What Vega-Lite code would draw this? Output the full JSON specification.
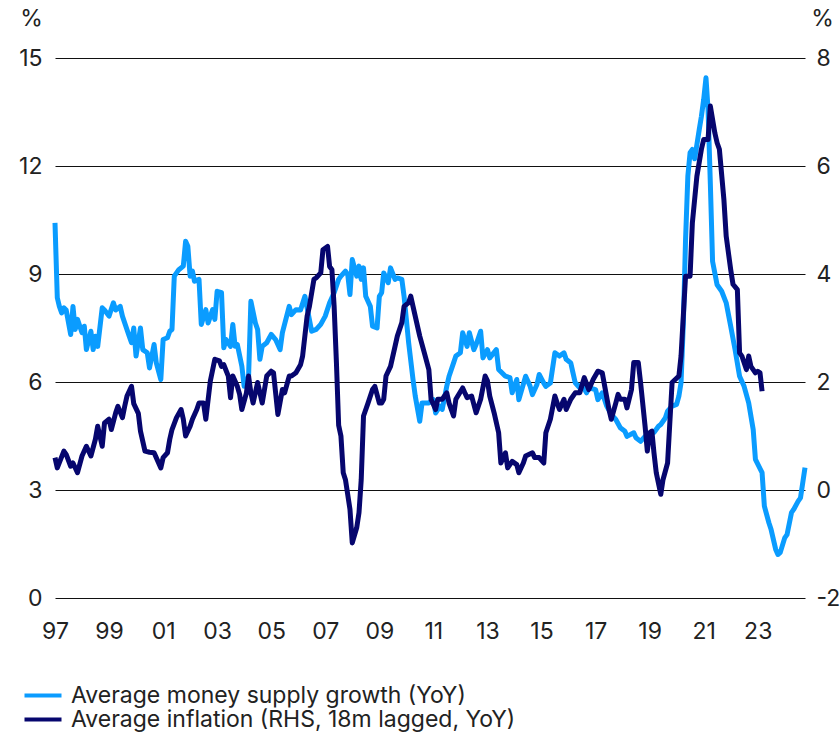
{
 "$schema": "https://vega.github.io/schema/vega-lite/v6.json",
 "width": 750,
 "height": 540,
 "autosize": {"type": "none"},
 "padding": {"left": 55, "top": 58, "right": 35, "bottom": 138},
 "background": "white",
 "datasets": {
  "money": [
   {"d":"1997-01","v":10.42},{"d":"1997-02","v":8.34},{"d":"1997-03","v":8.1},{"d":"1997-04","v":7.92},{"d":"1997-05","v":8.06},{"d":"1997-06","v":8.0},{"d":"1997-08","v":7.32},{"d":"1997-09","v":8.1},{"d":"1997-10","v":7.46},{"d":"1997-11","v":7.74},
   {"d":"1998-01","v":7.37},{"d":"1998-02","v":7.55},{"d":"1998-03","v":6.9},{"d":"1998-05","v":7.41},{"d":"1998-06","v":6.9},{"d":"1998-07","v":7.27},{"d":"1998-08","v":6.99},{"d":"1998-10","v":8.06},{"d":"1998-11","v":8.0},
   {"d":"1999-01","v":7.83},{"d":"1999-03","v":8.2},{"d":"1999-04","v":8.0},{"d":"1999-06","v":8.1},{"d":"1999-07","v":7.83},{"d":"1999-10","v":7.27},{"d":"1999-11","v":7.09},{"d":"1999-12","v":7.5},
   {"d":"2000-01","v":6.72},{"d":"2000-03","v":7.5},{"d":"2000-04","v":6.9},{"d":"2000-06","v":6.81},{"d":"2000-07","v":6.39},{"d":"2000-09","v":7.04},{"d":"2000-10","v":6.53},{"d":"2000-12","v":6.07},
   {"d":"2001-01","v":7.18},{"d":"2001-03","v":7.23},{"d":"2001-04","v":7.41},{"d":"2001-05","v":7.46},{"d":"2001-06","v":8.94},{"d":"2001-08","v":9.12},{"d":"2001-10","v":9.22},{"d":"2001-11","v":9.91},{"d":"2001-12","v":9.77},
   {"d":"2002-01","v":8.94},{"d":"2002-02","v":9.08},{"d":"2002-03","v":8.8},{"d":"2002-05","v":8.85},{"d":"2002-06","v":7.6},{"d":"2002-08","v":8.01},{"d":"2002-09","v":7.64},{"d":"2002-11","v":8.01},{"d":"2002-12","v":7.74},
   {"d":"2003-01","v":8.52},{"d":"2003-03","v":8.48},{"d":"2003-04","v":6.95},{"d":"2003-05","v":7.18},{"d":"2003-07","v":6.99},{"d":"2003-08","v":7.6},{"d":"2003-09","v":6.99},{"d":"2003-10","v":7.04},{"d":"2003-12","v":6.44},
   {"d":"2004-01","v":5.88},{"d":"2004-03","v":6.16},{"d":"2004-04","v":8.24},{"d":"2004-06","v":7.64},{"d":"2004-07","v":7.46},{"d":"2004-08","v":6.63},{"d":"2004-09","v":6.99},{"d":"2004-11","v":7.09},
   {"d":"2005-01","v":7.32},{"d":"2005-03","v":7.18},{"d":"2005-05","v":6.9},{"d":"2005-06","v":7.37},{"d":"2005-09","v":8.1},{"d":"2005-10","v":7.87},{"d":"2005-12","v":8.01},
   {"d":"2006-02","v":8.0},{"d":"2006-04","v":8.38},{"d":"2006-05","v":8.06},{"d":"2006-07","v":7.41},{"d":"2006-09","v":7.46},{"d":"2006-11","v":7.6},
   {"d":"2007-01","v":7.83},{"d":"2007-03","v":8.2},{"d":"2007-05","v":8.48},{"d":"2007-07","v":8.85},{"d":"2007-08","v":8.94},{"d":"2007-10","v":9.08},{"d":"2007-11","v":8.99},{"d":"2007-12","v":8.43},
   {"d":"2008-01","v":9.4},{"d":"2008-03","v":8.94},{"d":"2008-04","v":9.22},{"d":"2008-05","v":8.85},{"d":"2008-06","v":9.17},{"d":"2008-07","v":8.38},{"d":"2008-09","v":8.1},{"d":"2008-10","v":7.55},{"d":"2008-12","v":7.5},
   {"d":"2009-01","v":8.38},{"d":"2009-02","v":8.48},{"d":"2009-03","v":9.03},{"d":"2009-05","v":8.76},{"d":"2009-06","v":9.17},{"d":"2009-08","v":8.85},{"d":"2009-09","v":8.89},{"d":"2009-11","v":8.85},{"d":"2009-12","v":8.38},
   {"d":"2010-02","v":7.09},{"d":"2010-04","v":6.07},{"d":"2010-05","v":5.61},{"d":"2010-07","v":4.91},{"d":"2010-08","v":5.42},{"d":"2010-11","v":5.42},
   {"d":"2011-01","v":5.51},{"d":"2011-02","v":5.14},{"d":"2011-04","v":5.33},{"d":"2011-05","v":5.24},{"d":"2011-07","v":5.88},{"d":"2011-08","v":6.16},{"d":"2011-10","v":6.53},{"d":"2011-11","v":6.72},
   {"d":"2012-01","v":6.81},{"d":"2012-02","v":7.37},{"d":"2012-04","v":6.99},{"d":"2012-05","v":7.37},{"d":"2012-07","v":6.9},{"d":"2012-08","v":7.04},{"d":"2012-10","v":7.41},{"d":"2012-11","v":6.67},
   {"d":"2013-01","v":6.9},{"d":"2013-02","v":6.67},{"d":"2013-05","v":6.9},{"d":"2013-06","v":6.35},{"d":"2013-09","v":6.16},{"d":"2013-11","v":6.12},{"d":"2013-12","v":5.7},
   {"d":"2014-02","v":6.07},{"d":"2014-03","v":5.51},{"d":"2014-06","v":6.16},{"d":"2014-08","v":5.88},{"d":"2014-09","v":5.65},{"d":"2014-11","v":5.93},{"d":"2014-12","v":6.21},
   {"d":"2015-02","v":5.97},{"d":"2015-03","v":5.88},{"d":"2015-05","v":5.97},{"d":"2015-07","v":6.81},{"d":"2015-09","v":6.72},{"d":"2015-11","v":6.81},{"d":"2015-12","v":6.63},
   {"d":"2016-02","v":6.53},{"d":"2016-03","v":6.26},{"d":"2016-04","v":5.98},{"d":"2016-06","v":5.84},{"d":"2016-07","v":5.93},{"d":"2016-09","v":5.7},{"d":"2016-10","v":5.84},
   {"d":"2017-01","v":5.79},{"d":"2017-02","v":5.51},{"d":"2017-04","v":5.7},{"d":"2017-06","v":5.33},{"d":"2017-08","v":5.1},{"d":"2017-10","v":4.96},{"d":"2017-12","v":4.73},
   {"d":"2018-02","v":4.63},{"d":"2018-03","v":4.49},{"d":"2018-06","v":4.59},{"d":"2018-07","v":4.45},{"d":"2018-09","v":4.35},{"d":"2018-11","v":4.49},{"d":"2018-12","v":4.54},
   {"d":"2019-03","v":4.6},{"d":"2019-05","v":4.77},{"d":"2019-06","v":4.82},{"d":"2019-08","v":5.0},{"d":"2019-09","v":5.19},{"d":"2019-11","v":5.33},
   {"d":"2020-01","v":5.38},{"d":"2020-02","v":5.61},{"d":"2020-03","v":5.98},{"d":"2020-04","v":7.64},{"d":"2020-05","v":9.96},{"d":"2020-06","v":11.72},{"d":"2020-07","v":12.37},{"d":"2020-08","v":12.46},{"d":"2020-09","v":12.2},{"d":"2020-11","v":13.0},{"d":"2020-12","v":13.38},
   {"d":"2021-01","v":13.85},{"d":"2021-02","v":14.45},{"d":"2021-03","v":13.57},{"d":"2021-04","v":11.5},{"d":"2021-05","v":9.35},{"d":"2021-07","v":8.7},{"d":"2021-09","v":8.52},{"d":"2021-11","v":8.2},
   {"d":"2022-01","v":7.55},{"d":"2022-03","v":6.9},{"d":"2022-05","v":6.16},{"d":"2022-07","v":5.88},{"d":"2022-09","v":5.42},{"d":"2022-11","v":4.68},{"d":"2022-12","v":3.85},
   {"d":"2023-03","v":3.48},{"d":"2023-04","v":2.55},{"d":"2023-06","v":2.09},{"d":"2023-07","v":1.9},{"d":"2023-09","v":1.35},{"d":"2023-10","v":1.21},{"d":"2023-11","v":1.26},
   {"d":"2024-01","v":1.67},{"d":"2024-02","v":1.76},{"d":"2024-04","v":2.37},{"d":"2024-05","v":2.46},{"d":"2024-07","v":2.69},{"d":"2024-08","v":2.78},{"d":"2024-10","v":3.62}
  ],
  "infl": [
   {"d":"1997-01","v":0.6},{"d":"1997-02","v":0.41},{"d":"1997-05","v":0.72},{"d":"1997-06","v":0.66},{"d":"1997-08","v":0.44},{"d":"1997-09","v":0.5},{"d":"1997-11","v":0.32},
   {"d":"1998-01","v":0.63},{"d":"1998-03","v":0.81},{"d":"1998-05","v":0.63},{"d":"1998-07","v":0.94},{"d":"1998-08","v":1.18},{"d":"1998-10","v":0.81},{"d":"1998-11","v":1.24},
   {"d":"1999-01","v":1.31},{"d":"1999-02","v":1.12},{"d":"1999-04","v":1.43},{"d":"1999-05","v":1.55},{"d":"1999-07","v":1.34},{"d":"1999-08","v":1.55},{"d":"1999-09","v":1.74},{"d":"1999-11","v":1.92},{"d":"1999-12","v":1.6},
   {"d":"2000-02","v":1.42},{"d":"2000-03","v":1.09},{"d":"2000-05","v":0.72},{"d":"2000-07","v":0.7},{"d":"2000-09","v":0.69},{"d":"2000-12","v":0.41},
   {"d":"2001-01","v":0.6},{"d":"2001-03","v":0.69},{"d":"2001-04","v":0.94},{"d":"2001-05","v":1.12},{"d":"2001-07","v":1.34},{"d":"2001-09","v":1.49},{"d":"2001-10","v":1.31},{"d":"2001-11","v":1.0},
   {"d":"2002-01","v":1.18},{"d":"2002-02","v":1.31},{"d":"2002-04","v":1.49},{"d":"2002-05","v":1.61},{"d":"2002-07","v":1.61},{"d":"2002-08","v":1.31},{"d":"2002-10","v":2.02},{"d":"2002-12","v":2.42},
   {"d":"2003-02","v":2.39},{"d":"2003-03","v":2.29},{"d":"2003-04","v":2.32},{"d":"2003-06","v":2.11},{"d":"2003-07","v":1.71},{"d":"2003-08","v":2.11},{"d":"2003-10","v":1.92},{"d":"2003-11","v":1.77},{"d":"2003-12","v":1.49},
   {"d":"2004-02","v":1.8},{"d":"2004-03","v":2.11},{"d":"2004-04","v":1.8},{"d":"2004-05","v":1.61},{"d":"2004-07","v":1.99},{"d":"2004-09","v":1.61},{"d":"2004-11","v":2.11},
   {"d":"2005-01","v":2.2},{"d":"2005-02","v":2.17},{"d":"2005-04","v":1.4},{"d":"2005-06","v":1.86},{"d":"2005-07","v":1.8},{"d":"2005-09","v":2.11},{"d":"2005-10","v":2.11},{"d":"2005-12","v":2.17},
   {"d":"2006-02","v":2.32},{"d":"2006-03","v":2.48},{"d":"2006-05","v":3.22},{"d":"2006-06","v":3.4},{"d":"2006-08","v":3.9},{"d":"2006-09","v":3.93},{"d":"2006-11","v":4.02},{"d":"2006-12","v":4.45},
   {"d":"2007-02","v":4.51},{"d":"2007-03","v":4.14},{"d":"2007-04","v":4.08},{"d":"2007-05","v":3.4},{"d":"2007-06","v":2.36},{"d":"2007-07","v":1.2},{"d":"2007-08","v":1.0},{"d":"2007-09","v":0.32},{"d":"2007-10","v":0.19},{"d":"2007-12","v":-0.36},
   {"d":"2008-01","v":-0.98},{"d":"2008-03","v":-0.7},{"d":"2008-04","v":-0.42},{"d":"2008-05","v":0.19},{"d":"2008-06","v":1.37},{"d":"2008-08","v":1.61},{"d":"2008-10","v":1.86},{"d":"2008-11","v":1.92},
   {"d":"2009-01","v":1.61},{"d":"2009-02","v":1.61},{"d":"2009-03","v":1.68},{"d":"2009-04","v":2.11},{"d":"2009-06","v":2.29},{"d":"2009-08","v":2.66},{"d":"2009-09","v":2.85},{"d":"2009-11","v":3.1},{"d":"2009-12","v":3.4},
   {"d":"2010-02","v":3.47},{"d":"2010-03","v":3.59},{"d":"2010-04","v":3.4},{"d":"2010-06","v":3.03},{"d":"2010-07","v":2.85},{"d":"2010-09","v":2.54},{"d":"2010-11","v":2.23},{"d":"2010-12","v":1.68},
   {"d":"2011-02","v":1.49},{"d":"2011-03","v":1.68},{"d":"2011-05","v":1.68},{"d":"2011-07","v":1.8},{"d":"2011-08","v":1.61},{"d":"2011-10","v":1.37},{"d":"2011-11","v":1.68},
   {"d":"2012-02","v":1.89},{"d":"2012-03","v":1.8},{"d":"2012-04","v":1.71},{"d":"2012-06","v":1.74},{"d":"2012-08","v":1.43},{"d":"2012-10","v":1.68},{"d":"2012-12","v":2.11},
   {"d":"2013-01","v":2.02},{"d":"2013-02","v":1.74},{"d":"2013-04","v":1.43},{"d":"2013-06","v":1.06},{"d":"2013-07","v":0.5},{"d":"2013-09","v":0.69},{"d":"2013-10","v":0.41},{"d":"2013-12","v":0.53},
   {"d":"2014-02","v":0.47},{"d":"2014-03","v":0.32},{"d":"2014-05","v":0.5},{"d":"2014-06","v":0.63},{"d":"2014-09","v":0.69},{"d":"2014-10","v":0.6},{"d":"2014-12","v":0.6},
   {"d":"2015-02","v":0.5},{"d":"2015-03","v":1.06},{"d":"2015-05","v":1.31},{"d":"2015-07","v":1.74},{"d":"2015-08","v":1.61},{"d":"2015-09","v":1.49},{"d":"2015-11","v":1.68},{"d":"2015-12","v":1.49},
   {"d":"2016-02","v":1.68},{"d":"2016-04","v":1.8},{"d":"2016-06","v":1.8},{"d":"2016-08","v":2.08},{"d":"2016-10","v":1.86},{"d":"2016-12","v":2.05},
   {"d":"2017-02","v":2.2},{"d":"2017-04","v":2.17},{"d":"2017-07","v":1.49},{"d":"2017-08","v":1.31},{"d":"2017-10","v":1.61},{"d":"2017-11","v":1.77},{"d":"2017-12","v":1.68},
   {"d":"2018-02","v":1.68},{"d":"2018-03","v":1.52},{"d":"2018-05","v":1.86},{"d":"2018-06","v":2.36},{"d":"2018-08","v":2.36},{"d":"2018-09","v":1.99},{"d":"2018-11","v":1.18},{"d":"2018-12","v":0.72},
   {"d":"2019-01","v":1.06},{"d":"2019-02","v":1.09},{"d":"2019-03","v":0.69},{"d":"2019-04","v":0.32},{"d":"2019-06","v":-0.08},{"d":"2019-07","v":0.19},{"d":"2019-09","v":0.5},{"d":"2019-10","v":1.24},{"d":"2019-11","v":1.99},
   {"d":"2020-02","v":2.11},{"d":"2020-03","v":2.48},{"d":"2020-05","v":3.96},{"d":"2020-07","v":3.96},{"d":"2020-08","v":4.95},{"d":"2020-10","v":5.81},{"d":"2020-12","v":6.31},
   {"d":"2021-01","v":6.49},{"d":"2021-03","v":6.49},{"d":"2021-04","v":7.11},{"d":"2021-06","v":6.61},{"d":"2021-07","v":6.43},{"d":"2021-08","v":6.31},{"d":"2021-10","v":5.38},{"d":"2021-11","v":4.7},
   {"d":"2022-01","v":4.08},{"d":"2022-02","v":3.81},{"d":"2022-04","v":3.71},{"d":"2022-05","v":2.54},{"d":"2022-06","v":2.48},{"d":"2022-08","v":2.23},{"d":"2022-09","v":2.48},{"d":"2022-10","v":2.29},{"d":"2022-12","v":2.17},
   {"d":"2023-01","v":2.2},{"d":"2023-02","v":2.17},{"d":"2023-03","v":1.83}
  ]
 },
 "config": {
  "view": {"stroke": null},
  "font": "Inter",
  "axis": {"labelFont": "Inter", "labelFontSize": 23, "labelColor": "#222222", "domain": false, "ticks": false, "titleFont": "Inter", "titleFontSize": 23, "titleFontWeight": "normal", "titleColor": "#222222"}
 },
 "layer": [
  {
   "data": {"name": "money"},
   "mark": {"type": "line", "strokeWidth": 5, "strokeJoin": "round"},
   "encoding": {
    "x": {"field": "d", "type": "temporal",
     "scale": {"type": "utc", "domain": [{"year": 1997, "month": 1, "date": 1, "utc": true}, {"year": 2024, "month": 10, "date": 1, "utc": true}]},
     "axis": {"title": null, "grid": false, "format": "%y", "labelPadding": 22, "labelFlush": false, "labelOverlap": false,
      "values": [{"year":1997,"utc":true},{"year":1999,"utc":true},{"year":2001,"utc":true},{"year":2003,"utc":true},{"year":2005,"utc":true},{"year":2007,"utc":true},{"year":2009,"utc":true},{"year":2011,"utc":true},{"year":2013,"utc":true},{"year":2015,"utc":true},{"year":2017,"utc":true},{"year":2019,"utc":true},{"year":2021,"utc":true},{"year":2023,"utc":true}]}},
    "y": {"field": "v", "type": "quantitative",
     "scale": {"domain": [0, 15], "nice": false, "zero": false},
     "axis": {"orient": "left", "values": [0, 3, 6, 9, 12, 15], "grid": true, "gridColor": "#111111", "gridWidth": 1, "labelPadding": 13,
      "title": "%", "titleAngle": 0, "titleX": -24, "titleY": -40, "titleAlign": "center", "titleBaseline": "middle"}},
    "color": {"datum": "Average money supply growth (YoY)", "type": "nominal",
     "scale": {"domain": ["Average money supply growth (YoY)", "Average inflation (RHS, 18m lagged, YoY)"], "range": ["#0a9cff", "#06066e"]},
     "legend": {"orient": "none", "legendX": -23.5, "legendY": 626, "direction": "vertical", "title": null, "symbolType": "M-3.7,0H3.7", "symbolSize": 100, "symbolStrokeWidth": 4, "labelFont": "Inter", "labelFontSize": 23, "labelColor": "#222222", "labelOffset": 16.5, "rowPadding": 0, "padding": 0, "labelLimit": 700}}
   }
  },
  {
   "data": {"name": "infl"},
   "mark": {"type": "line", "strokeWidth": 5, "strokeJoin": "round"},
   "encoding": {
    "x": {"field": "d", "type": "temporal"},
    "y": {"field": "v", "type": "quantitative",
     "scale": {"domain": [-2, 8], "nice": false, "zero": false},
     "axis": {"orient": "right", "values": [-2, 0, 2, 4, 6, 8], "grid": false, "labelPadding": 11, "labelExpr": "'' + datum.value",
      "title": "%", "titleAngle": 0, "titleX": 17, "titleY": -40, "titleAlign": "center", "titleBaseline": "middle"}},
    "color": {"datum": "Average inflation (RHS, 18m lagged, YoY)", "type": "nominal"}
   }
  }
 ],
 "resolve": {"scale": {"y": "independent"}}
}
